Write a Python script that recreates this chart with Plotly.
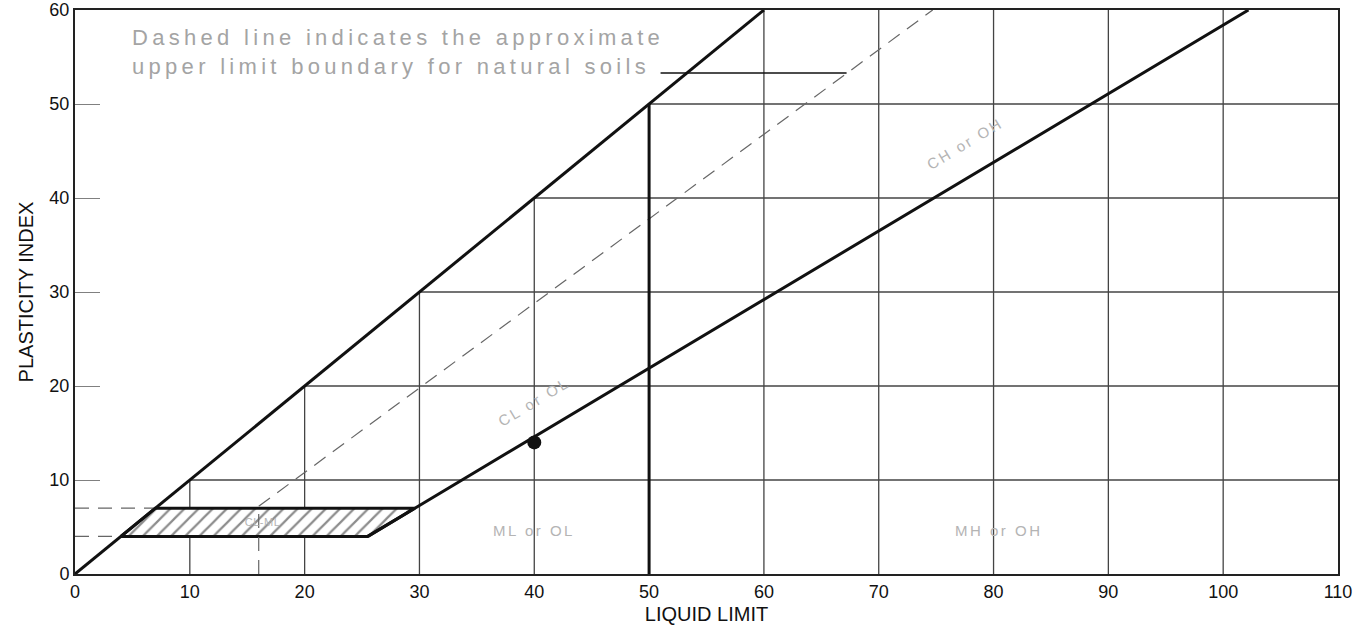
import plotly.graph_objects as go

# ---- data ----
x_ticks = [0, 10, 20, 30, 40, 50, 60, 70, 80, 90, 100, 110]
y_ticks = [0, 10, 20, 30, 40, 50, 60]

upper_line_ll = [0, 60]
upper_line_pi = [0, 60]

a_line_ll = [25.5, 29.6, 102.2]
a_line_pi = [4, 7, 60]

u_line_ll = [16, 74.7]
u_line_pi = [7.2, 60]

ll50_x = [50, 50]
ll50_y = [0, 50]

hatch_ll = [4, 25.5, 29.6, 7, 4]
hatch_pi = [4, 4, 7, 7, 4]

sample_ll = [40]
sample_pi = [14]

leader_ll = [51, 67.2]
leader_pi = [53.3, 53.3]

zone_labels = ["CL-ML", "ML or OL", "MH or OH", "CL or OL", "CH or OH"]
zone_ll = [16.3, 40, 80.5, 40, 77.5]
zone_pi = [5.5, 4.6, 4.6, 18.3, 45.8]
zone_angle = [0, 0, 0, -31, -31]
zone_size = [11, 15, 15, 15, 15]

note_text = "Dashed line indicates the approximate<br>upper limit boundary for natural soils"

FONT = "Liberation Sans, Arial, sans-serif"
GRID = "#444444"

fig = go.Figure()

# clipped grid: only below the PI = LL line
for v in x_ticks[1:-1]:
    if v == 50:
        continue
    top = min(v, y_ticks[-1])
    fig.add_trace(go.Scatter(x=[v, v], y=[0, top], mode="lines",
                             line=dict(color=GRID, width=1.3),
                             hoverinfo="skip", showlegend=False))
for h in y_ticks[1:-1]:
    fig.add_trace(go.Scatter(x=[h, x_ticks[-1]], y=[h, h], mode="lines",
                             line=dict(color=GRID, width=1.3),
                             hoverinfo="skip", showlegend=False))

# hatched CL-ML zone
fig.add_trace(go.Scatter(x=hatch_ll, y=hatch_pi, mode="lines", fill="toself",
                         fillcolor="white",
                         fillpattern=dict(shape="/", size=10, solidity=0.22,
                                          fgcolor="#1a1a1a", bgcolor="white"),
                         line=dict(color="#111111", width=3),
                         hoverinfo="skip", showlegend=False))

# dashed helper lines
DASH = dict(color="#666666", width=1.2, dash="14px,9px")
fig.add_trace(go.Scatter(x=[0, hatch_ll[3]], y=[hatch_pi[3], hatch_pi[3]], mode="lines",
                         line=DASH, hoverinfo="skip", showlegend=False))
fig.add_trace(go.Scatter(x=[0, hatch_ll[0]], y=[hatch_pi[0], hatch_pi[0]], mode="lines",
                         line=DASH, hoverinfo="skip", showlegend=False))
fig.add_trace(go.Scatter(x=[u_line_ll[0], u_line_ll[0]], y=[0, u_line_pi[0]], mode="lines",
                         line=DASH, hoverinfo="skip", showlegend=False))

# U-line (dashed)
fig.add_trace(go.Scatter(x=u_line_ll, y=u_line_pi, mode="lines",
                         line=DASH, hoverinfo="skip", showlegend=False))

# thick lines
for xs, ys in [(upper_line_ll, upper_line_pi), (a_line_ll, a_line_pi), (ll50_x, ll50_y)]:
    fig.add_trace(go.Scatter(x=xs, y=ys, mode="lines",
                             line=dict(color="#111111", width=3),
                             hoverinfo="skip", showlegend=False))

# leader line
fig.add_trace(go.Scatter(x=leader_ll, y=leader_pi, mode="lines",
                         line=dict(color="#111111", width=1.3),
                         hoverinfo="skip", showlegend=False))

# sample point
fig.add_trace(go.Scatter(x=sample_ll, y=sample_pi, mode="markers",
                         marker=dict(color="#111111", size=14),
                         showlegend=False))

for t, x, y, a, s in zip(zone_labels, zone_ll, zone_pi, zone_angle, zone_size):
    fig.add_annotation(x=x, y=y, text=t, showarrow=False, textangle=a,
                       font=dict(family=FONT, size=s, color="#b4b4b4"))

fig.add_annotation(x=4.8, y=58.6, xanchor="left", yanchor="top", align="left",
                   text=note_text, showarrow=False,
                   font=dict(family=FONT, size=22, color="#a4a4a4"))

fig.update_layout(
    width=1363, height=627,
    margin=dict(l=75, r=25, t=10, b=53),
    paper_bgcolor="white", plot_bgcolor="white",
    font=dict(family=FONT, size=18, color="#111111"),
    xaxis=dict(range=[0, 110], tickvals=x_ticks, showgrid=False, zeroline=False,
               showline=True, linecolor="#222222", linewidth=2, mirror=True,
               automargin=False, ticks="", tickfont=dict(size=18),
               ticklabeloverflow="allow",
               title=dict(text="LIQUID LIMIT", font=dict(size=20), standoff=6)),
    yaxis=dict(range=[0, 60], tickvals=y_ticks, showgrid=False, zeroline=False,
               showline=True, linecolor="#222222", linewidth=2, mirror=True,
               automargin=False, ticklabeloverflow="allow",
               ticks="inside", ticklen=25, tickcolor="#808080", tickwidth=1.2,
               tickfont=dict(size=18),
               title=dict(text="PLASTICITY INDEX", font=dict(size=20), standoff=10)),
)

post = """
document.body.style.margin = '0';
var gd = document.getElementById('{plot_id}');
function spaceOut(){
  gd.querySelectorAll('text.annotation-text').forEach(function(t){
    var s = t.textContent;
    if (s.indexOf('Dashed') >= 0) { t.style.letterSpacing = '4.3px'; }
    else if (s.indexOf('CL-ML') >= 0) { t.style.letterSpacing = '0.5px'; }
    else { t.style.letterSpacing = '2.5px'; }
  });
}
spaceOut();
gd.on('plotly_afterplot', spaceOut);
"""

fig.write_html("out.html", post_script=post, config={"displayModeBar": False})
